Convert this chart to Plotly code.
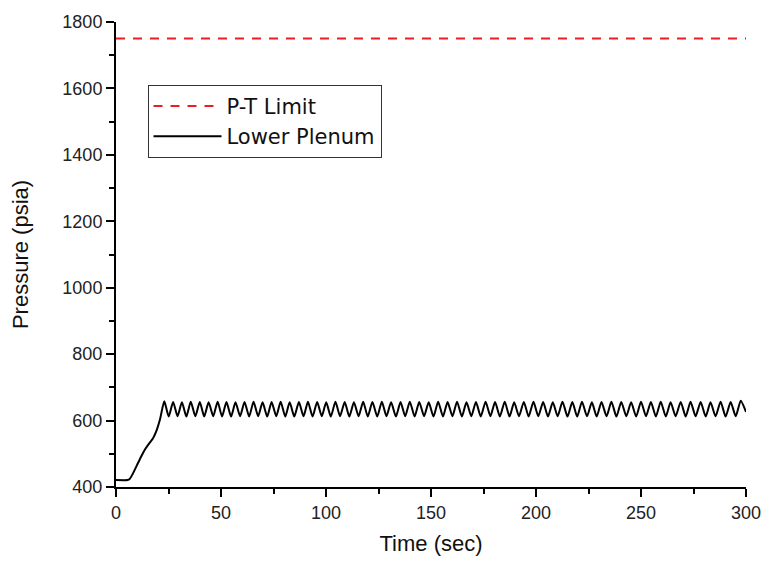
import plotly.graph_objects as go

# P-T limit (constant pressure limit, psia)
pt_limit = 1750.0
time_range = [0, 300]

# Lower plenum pressure: initial ramp (time in sec, pressure in psia)
ramp_time = [0, 5.5, 6.5, 8, 10, 12, 14, 16, 17.5, 19, 21]
ramp_pres = [421, 421, 424, 440, 466, 492, 515, 533, 545, 565, 605]

# Oscillation peaks
peak_time = [23.0, 27.2, 31.4, 35.6, 39.9, 44.1, 48.4, 52.6, 56.9, 61.2,
             65.5, 69.8, 74.1, 78.4, 82.7, 87.1, 91.4, 95.8, 100.1, 104.5,
             108.9, 113.3, 117.7, 122.1, 126.6, 131.0, 135.5, 139.9, 144.4, 148.9,
             153.4, 157.9, 162.4, 166.9, 171.4, 176.0, 180.5, 185.1, 189.6, 194.2,
             198.8, 203.4, 208.0, 212.6, 217.3, 221.9, 226.6, 231.2, 235.9, 240.6,
             245.3, 250.0, 254.7, 259.4, 264.1, 268.9, 273.6, 278.4, 283.1, 287.9,
             292.7, 297.5]
peak_pres = [658, 656, 655, 657, 656, 655, 657, 656, 655, 656,
             657, 655, 656, 657, 655, 656, 657, 656, 655, 657,
             656, 655, 657, 656, 657, 655, 656, 657, 656, 655,
             657, 656, 657, 655, 656, 657, 656, 657, 655, 656,
             657, 656, 655, 657, 656, 657, 655, 656, 657, 656,
             655, 657, 656, 657, 655, 656, 657, 656, 655, 657,
             656, 660]

# Oscillation troughs (one after each peak)
trough_time = [25.1, 29.3, 33.5, 37.8, 42.0, 46.3, 50.5, 54.8, 59.1, 63.4,
               67.7, 72.0, 76.3, 80.6, 84.9, 89.3, 93.6, 98.0, 102.3, 106.7,
               111.1, 115.5, 119.9, 124.4, 128.8, 133.3, 137.7, 142.2, 146.7, 151.2,
               155.7, 160.2, 164.7, 169.2, 173.7, 178.3, 182.8, 187.4, 191.9, 196.5,
               201.1, 205.7, 210.3, 215.0, 219.6, 224.3, 228.9, 233.6, 238.3, 243.0,
               247.7, 252.4, 257.1, 261.8, 266.5, 271.3, 276.0, 280.8, 285.5, 290.3,
               295.1]
trough_pres = [612, 613, 612, 613, 612, 613, 612, 612, 613, 612,
               613, 612, 613, 612, 612, 613, 612, 613, 612, 613,
               612, 613, 612, 612, 613, 612, 613, 612, 613, 612,
               612, 613, 612, 613, 612, 613, 612, 612, 613, 612,
               613, 612, 613, 612, 612, 613, 612, 613, 612, 613,
               612, 613, 612, 612, 613, 612, 613, 612, 613, 612,
               613]

end_time = 300
end_pres = 626

# Assemble the lower plenum trace: ramp, then alternating peaks and troughs
lp_time = list(ramp_time)
lp_pres = list(ramp_pres)
for i in range(len(peak_time)):
    lp_time.append(peak_time[i])
    lp_pres.append(peak_pres[i])
    if i < len(trough_time):
        lp_time.append(trough_time[i])
        lp_pres.append(trough_pres[i])
lp_time.append(end_time)
lp_pres.append(end_pres)

font_family = "Arial, Liberation Sans, sans-serif"
legend_family = "DejaVu Sans, Arial, sans-serif"

fig = go.Figure()
fig.add_trace(go.Scatter(
    x=time_range, y=[pt_limit, pt_limit], mode="lines", name="P-T Limit",
    line=dict(color="#ee1c24", width=2, dash="9px,8px"),
))
fig.add_trace(go.Scatter(
    x=lp_time, y=lp_pres, mode="lines", name="Lower Plenum",
    line=dict(color="black", width=2, shape="spline", smoothing=0.6),
))

axis_common = dict(
    showline=True, linecolor="black", linewidth=2,
    ticks="outside", ticklen=8, tickwidth=2, tickcolor="black",
    showgrid=False, zeroline=False, mirror=False,
    tickfont=dict(family=font_family, size=18, color="#222"),
)

fig.update_layout(
    width=773, height=564,
    margin=dict(l=116, r=18, t=16, b=76),
    paper_bgcolor="white", plot_bgcolor="white",
    showlegend=True,
    legend=dict(
        x=0.05, y=0.865, xanchor="left", yanchor="top",
        bgcolor="white", bordercolor="#333", borderwidth=1,
        font=dict(family=legend_family, size=21, color="#111"),
        itemwidth=68, tracegroupgap=0,
    ),
    xaxis=dict(
        range=[0, 300], tickmode="linear", tick0=0, dtick=50,
        minor=dict(ticks="outside", ticklen=5, tickwidth=2, tickcolor="black",
                   dtick=25, showgrid=False),
        title=dict(text="Time (sec)", font=dict(family=font_family, size=22, color="#111"),
                   standoff=14),
        **axis_common,
    ),
    yaxis=dict(
        range=[400, 1800], tickmode="linear", tick0=400, dtick=200,
        minor=dict(ticks="outside", ticklen=5, tickwidth=2, tickcolor="black",
                   dtick=100, showgrid=False),
        title=dict(text="Pressure (psia)", font=dict(family=font_family, size=22, color="#111"),
                   standoff=28),
        **axis_common,
    ),
)

fig.write_html("out.html")
